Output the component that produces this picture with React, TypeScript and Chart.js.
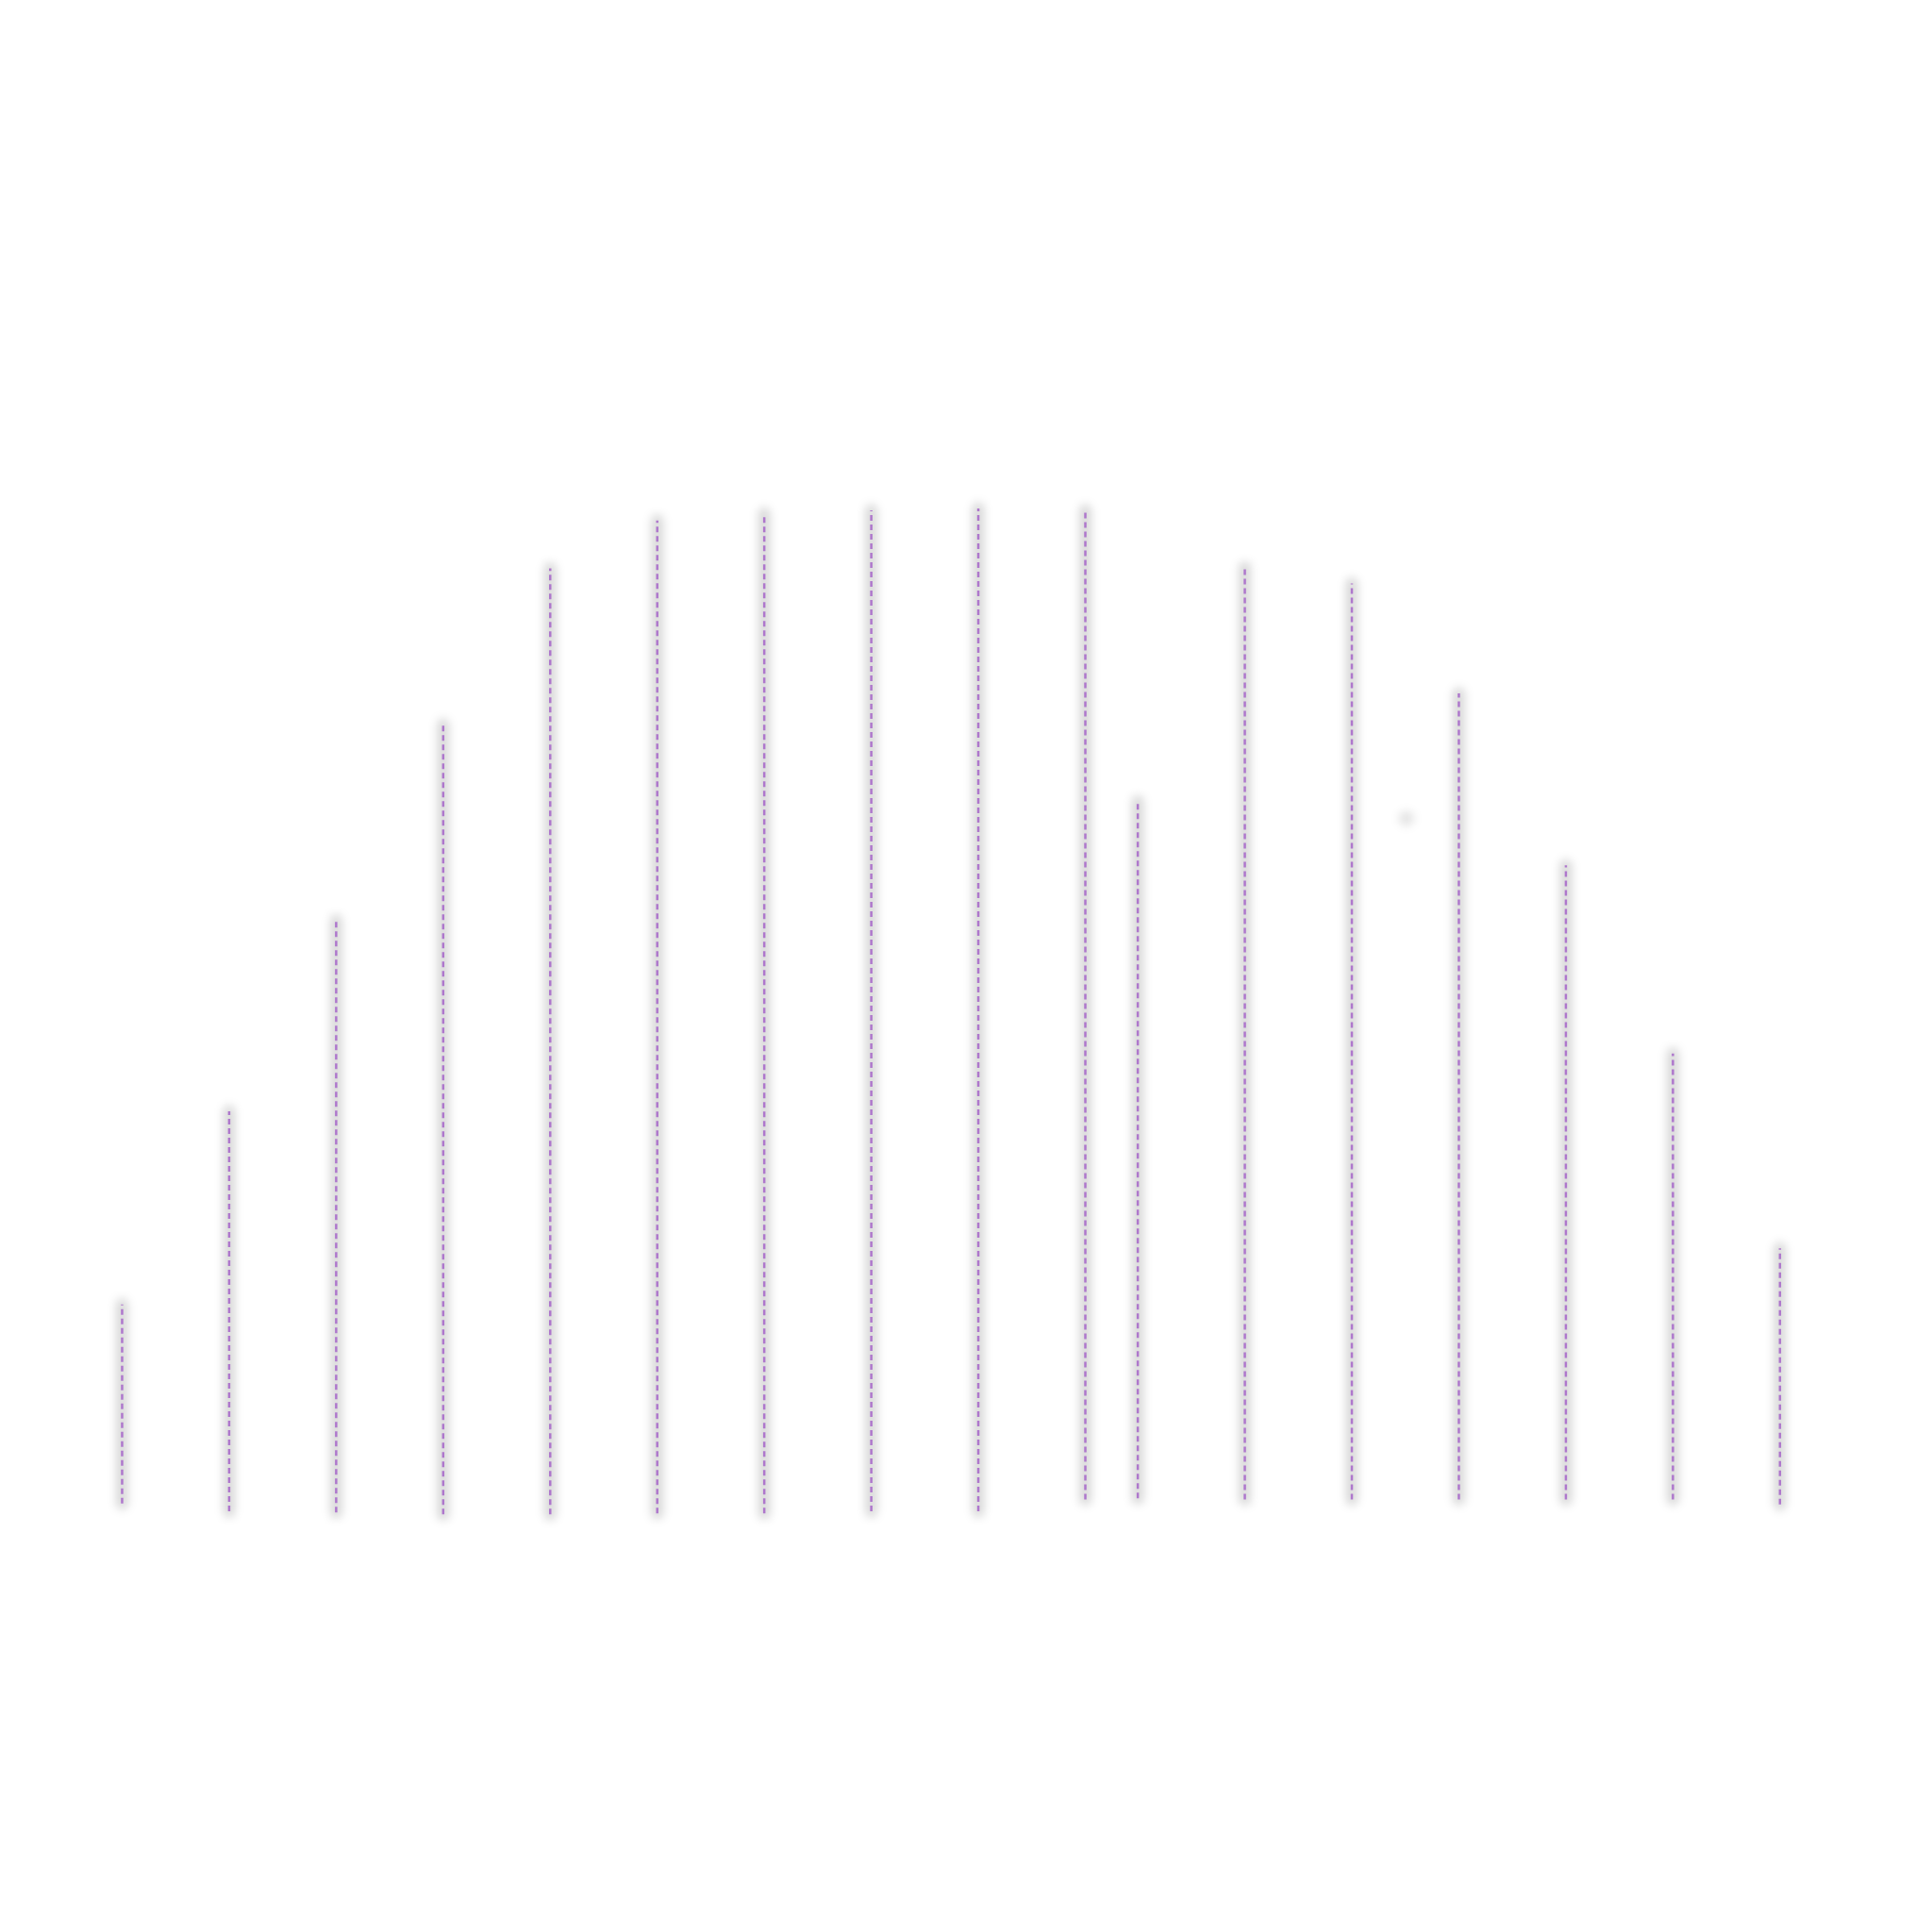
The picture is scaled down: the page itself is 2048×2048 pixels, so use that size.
import React, { useEffect, useRef } from "react";
import { Chart, registerables } from "chart.js";

Chart.register(...registerables);

// Positions of the vertical ranges along the (hidden) x axis
const xPositions = [0, 1, 2, 3, 4, 5, 6, 7, 8, 9, 9.49, 10.49, 11.49, 12.49, 13.49, 14.49, 15.49];
// Lower end of each range
const lowValues = [0.6, -0.2, -0.3, -0.5, -0.5, -0.4, -0.4, -0.2, -0.2, 1.0, 1.1, 1.0, 1.0, 1.0, 1.0, 1.0, 0.5];
// Upper end of each range
const highValues = [20.5, 39.8, 58.9, 78.5, 94.1, 98.9, 99.6, 99.9, 100.1, 99.9, 70.8, 94.2, 92.6, 81.6, 64.4, 45.6, 26.1];
// Lone marker
const markerX = [12];
const markerY = [69.1];

// Soft blurred halo under the halo / marker datasets (index 1 and 2)
const haloPlugin = {
  id: "halo",
  beforeDatasetDraw(chart: any, args: any) {
    const ctx = chart.ctx;
    ctx.save();
    if (args.index === 1 || args.index === 2) {
      ctx.filter = "blur(5px)";
    }
  },
  afterDatasetDraw(chart: any) {
    chart.ctx.restore();
  },
};

export default function App() {
  const canvasRef = useRef<HTMLCanvasElement | null>(null);

  useEffect(() => {
    if (!canvasRef.current) return;
    const rangeData: any[] = [];
    xPositions.forEach((x, i) => {
      rangeData.push({ x, y: lowValues[i] });
      rangeData.push({ x, y: highValues[i] });
      rangeData.push({ x, y: null });
    });
    const markerData = markerX.map((x, i) => ({ x, y: markerY[i] }));

    const chart = new Chart(canvasRef.current, {
      type: "line",
      data: {
        datasets: [
          {
            label: "range",
            data: rangeData,
            borderColor: "rgba(165, 100, 200, 0.85)",
            borderWidth: 2.5,
            borderDash: [6, 4],
            pointRadius: 0,
            spanGaps: false,
            fill: false,
            tension: 0,
          },
          {
            label: "range halo",
            data: rangeData,
            borderColor: "rgba(0, 0, 0, 0.15)",
            borderWidth: 13,
            borderCapStyle: "round",
            pointRadius: 0,
            spanGaps: false,
            fill: false,
            tension: 0,
          },
          {
            label: "marker",
            data: markerData,
            showLine: false,
            pointRadius: 8,
            pointBackgroundColor: "rgba(0,0,0,0.11)",
            pointBorderWidth: 0,
            borderColor: "rgba(0,0,0,0)",
          },
        ],
      } as any,
      options: {
        animation: false,
        responsive: false,
        devicePixelRatio: 1,
        layout: { padding: { left: 16, right: 46.6, top: 328, bottom: 236 } },
        scales: {
          x: { type: "linear", min: -1, max: 16.5, display: false },
          y: { type: "linear", min: -20, max: 120, display: false },
        },
        plugins: {
          legend: { display: false },
          tooltip: { enabled: false },
        },
      },
      plugins: [haloPlugin],
    });
    return () => chart.destroy();
  }, []);

  return (
    <div style={{ position: "absolute", left: 0, top: 0, width: 2048, height: 2048, background: "#ffffff" }}>
      <canvas ref={canvasRef} width={2048} height={2048} />
    </div>
  );
}
